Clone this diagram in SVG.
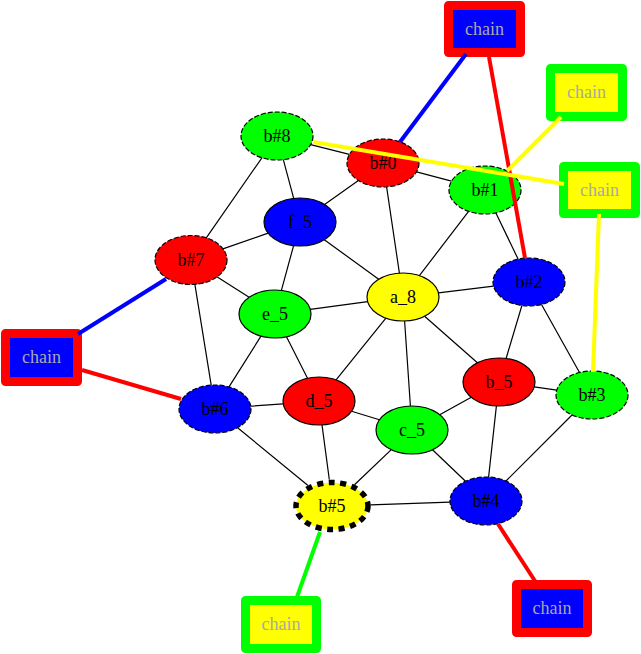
<svg xmlns="http://www.w3.org/2000/svg" width="641" height="654" viewBox="0 0 641 654">
<style>
.n{stroke:#000;stroke-width:1.2}
.d{stroke-dasharray:5,2}
.t{font-family:"Liberation Serif","Times New Roman",serif;font-size:18px;text-anchor:middle;fill:#000}
.ct{font-family:"Liberation Serif","Times New Roman",serif;font-size:18px;text-anchor:middle;fill:#a8a8a8}
.cb{stroke-width:9;stroke-linejoin:round}
.e{stroke:#000;stroke-width:1.2;fill:none}
.w{stroke-width:4;fill:none}
</style>
<rect width="641" height="654" fill="#fff"/>
<g id="nodes">
<g id="b8"><ellipse class="n d" cx="277" cy="136" rx="36" ry="24" fill="#00ff00"/><text class="t" x="277" y="142">b#8</text></g>
<g id="b0"><ellipse class="n d" cx="383" cy="163" rx="36" ry="24" fill="#ff0000"/><text class="t" x="383" y="169">b#0</text></g>
<g id="b1"><ellipse class="n d" cx="485" cy="190" rx="36" ry="24" fill="#00ff00"/><text class="t" x="485" y="196">b#1</text></g>
<g id="f5"><ellipse class="n" cx="300" cy="222" rx="36" ry="24" fill="#0000ff"/><text class="t" x="300" y="228">f_5</text></g>
<g id="b7"><ellipse class="n d" cx="191" cy="260" rx="36" ry="24.5" fill="#ff0000"/><text class="t" x="191" y="266">b#7</text></g>
<g id="e5"><ellipse class="n" cx="275" cy="314" rx="36" ry="24" fill="#00ff00"/><text class="t" x="275" y="320">e_5</text></g>
<g id="a8"><ellipse class="n" cx="403" cy="297" rx="36" ry="24" fill="#ffff00"/><text class="t" x="403" y="303">a_8</text></g>
<g id="b2"><ellipse class="n d" cx="529" cy="282" rx="36" ry="24" fill="#0000ff"/><text class="t" x="529" y="288">b#2</text></g>
<g id="b6"><ellipse class="n d" cx="215" cy="409" rx="36" ry="24" fill="#0000ff"/><text class="t" x="215" y="415">b#6</text></g>
<g id="d5"><ellipse class="n" cx="319" cy="401" rx="36" ry="24" fill="#ff0000"/><text class="t" x="319" y="407">d_5</text></g>
<g id="c5"><ellipse class="n" cx="412" cy="430" rx="36" ry="24" fill="#00ff00"/><text class="t" x="412" y="436">c_5</text></g>
<g id="b_5"><ellipse class="n" cx="499" cy="382" rx="36" ry="24" fill="#ff0000"/><text class="t" x="499" y="388">b_5</text></g>
<g id="b3"><ellipse class="n d" cx="592" cy="395" rx="36" ry="24" fill="#00ff00"/><text class="t" x="592" y="401">b#3</text></g>
<g id="b4"><ellipse class="n d" cx="486" cy="501" rx="36" ry="24" fill="#0000ff"/><text class="t" x="486" y="507">b#4</text></g>
<g id="b5"><ellipse cx="332" cy="506" rx="36" ry="23.5" fill="#ffff00" stroke="#000" stroke-width="5.5" stroke-dasharray="6,5.5"/><text class="t" x="332" y="512">b#5</text></g>
<g id="chain_top"><rect class="cb" x="448.5" y="5.5" width="72" height="47" fill="#0000ff" stroke="#ff0000"/><text class="ct" x="484.5" y="35">chain</text></g>
<g id="chain_tr1"><rect class="cb" x="550.5" y="68.5" width="72" height="48" fill="#ffff00" stroke="#00ff00"/><text class="ct" x="586.5" y="98">chain</text></g>
<g id="chain_tr2"><rect class="cb" x="563.5" y="166.5" width="72" height="47" fill="#ffff00" stroke="#00ff00"/><text class="ct" x="599.5" y="196">chain</text></g>
<g id="chain_left"><rect class="cb" x="5.5" y="333.5" width="72" height="48" fill="#0000ff" stroke="#ff0000"/><text class="ct" x="41.5" y="363">chain</text></g>
<g id="chain_bottom"><rect class="cb" x="245.5" y="600.5" width="71" height="48" fill="#ffff00" stroke="#00ff00"/><text class="ct" x="281" y="630">chain</text></g>
<g id="chain_br"><rect class="cb" x="516.5" y="584.5" width="71" height="48" fill="#0000ff" stroke="#ff0000"/><text class="ct" x="552" y="614">chain</text></g>
</g>
<g id="connectors">
<path class="e" d="M310.6,144.6L349.4,154.4M283.3,159.6L293.7,198.4M261.9,157.8L206.1,238.2M358.4,180.5L324.6,204.5M416.5,171.9L451.5,181.1M386.6,186.9L399.4,273.1M468.6,211.4L419.4,275.6M495.9,212.9L518.1,259.1M268.1,233.1L222.9,248.9M293.6,245.6L281.4,290.4M324.3,239.7L378.7,279.3M216.9,276.7L249.1,297.3M194.8,283.9L211.2,385.1M310.3,309.3L367.7,301.7M261,336.1L229,386.9M286.5,336.7L307.5,378.3M438.4,292.8L493.6,286.2M385.9,318.1L336.1,379.9M404.6,321L410.4,406M424.6,316.2L477.4,362.8M521.9,305.5L506.1,358.5M541.5,304.5L579.5,372.5M534.2,386.9L556.8,390.1M471.3,397.3L439.7,414.7M496.4,405.9L488.6,477.1M572,415L506,481M379.4,419.8L351.6,411.2M391.3,449.6L354.5,484.7M432.5,449.7L465.5,481.3M283.2,403.8L250.8,406.2M322,424.9L329.3,479.5M237.6,427.7L308,485.5M370.5,504.8L450,502.2"/>
<line class="w" x1="466" y1="54" x2="400" y2="142" stroke="#0000ff"/>
<line class="w" x1="489" y1="57" x2="525" y2="258" stroke="#ff0000"/>
<line class="w" x1="561" y1="117" x2="507" y2="171" stroke="#ffff00"/>
<line class="w" x1="313" y1="142" x2="564" y2="184" stroke="#ffff00"/>
<line class="w" x1="599" y1="214" x2="593" y2="372" stroke="#ffff00"/>
<line class="w" x1="78" y1="334" x2="166" y2="279" stroke="#0000ff"/>
<line class="w" x1="82" y1="370" x2="181" y2="399" stroke="#ff0000"/>
<line class="w" x1="320" y1="532" x2="297" y2="597" stroke="#00ff00"/>
<line class="w" x1="498" y1="524" x2="535" y2="581" stroke="#ff0000"/>
</g>
</svg>
